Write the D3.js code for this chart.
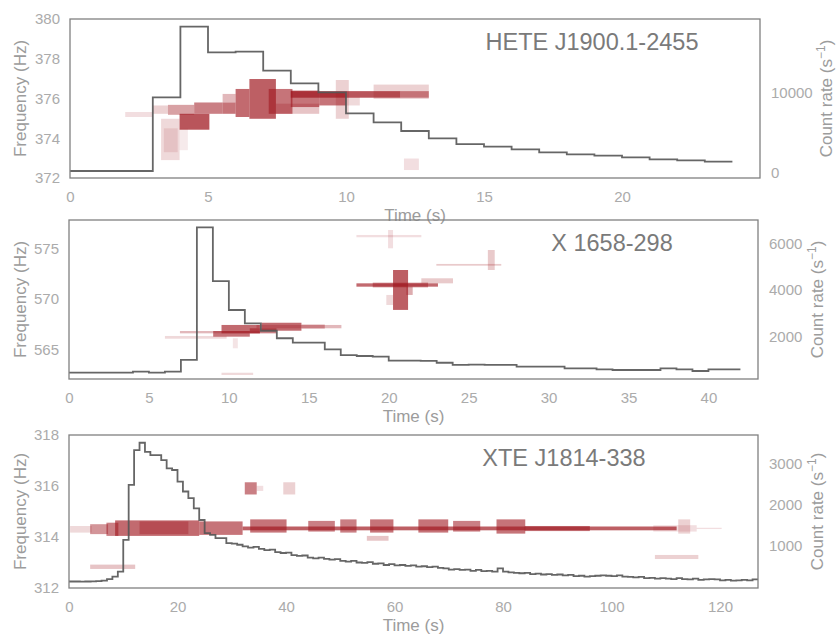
<!DOCTYPE html>
<html>
<head>
<meta charset="utf-8">
<script src="https://cdn.jsdelivr.net/npm/d3@7"></script>
<style>
body { margin: 0; background: #fff; }
svg { display: block; font-family: "Liberation Sans", Arial, sans-serif; }
</style>
</head>
<body>
<div id="chart"></div>
<script>
'use strict';

// ---- light curves, count rate per 1 s bin, starting at t = 0 ----
let hete_rate = [250, 250, 250, 9460, 18290, 15080, 15160, 12790, 11210, 10080, 7460, 6340,
    5250, 4330, 3620, 3290, 2960, 2580, 2330, 2170, 1960, 1710, 1580, 1410];

let x1658_rate = [455, 455, 455, 455, 500, 455, 500, 1000, 6680, 4380, 3140, 2570, 2250, 1930,
    1740, 1740, 1455, 1210, 1170, 1140, 970, 970, 960, 880, 785, 800, 785, 785, 710, 710, 710,
    640, 640, 600, 570, 570, 570, 640, 600, 527, 600, 600];

let xte_rate = [140, 140, 135, 140, 145, 150, 160, 200, 260, 380, 1150, 2480, 3320, 3500, 3280,
    3200, 3200, 3080, 2880, 2840, 2560, 2320, 2160, 1910, 1630, 1310, 1270, 1190, 1190, 1070,
    1060, 1030, 990, 960, 980, 930, 900, 910, 850, 830, 840, 780, 760, 770, 720, 700, 720, 690,
    670, 680, 640, 620, 640, 600, 590, 610, 570, 580, 540, 560, 530, 540, 520, 530, 500, 510,
    490, 500, 470, 460, 430, 440, 420, 430, 400, 420, 390, 400, 380, 460, 380, 360, 350, 340,
    350, 320, 330, 310, 320, 300, 310, 290, 300, 270, 280, 260, 270, 280, 290, 280, 270, 290,
    260, 250, 240, 250, 220, 230, 210, 220, 210, 200, 220, 200, 190, 210, 180, 190, 200, 190,
    170, 180, 160, 170, 180, 170, 190];

// ---- oscillation candidates: [t start, t end, f low, f high, relative power] ----
let hete_power = [
    [2.0, 3.0, 375.07, 375.32, 0.10],
    [3.0, 3.55, 375.23, 375.65, 0.15],
    [3.3, 3.97, 372.9, 374.98, 0.12],
    [3.4, 3.9, 373.3, 374.5, 0.08],
    [3.97, 4.27, 373.4, 374.5, 0.06],
    [3.55, 4.5, 375.18, 375.68, 0.35],
    [3.97, 5.05, 374.43, 375.23, 0.70],
    [4.5, 5.53, 375.23, 375.8, 0.50],
    [5.53, 6.0, 375.8, 376.23, 0.25],
    [5.53, 6.0, 375.23, 375.8, 0.55],
    [6.0, 6.5, 375.07, 376.48, 0.60],
    [6.5, 7.46, 374.98, 376.98, 0.65],
    [7.2, 8.06, 375.23, 376.48, 0.55],
    [7.46, 9.03, 375.23, 375.74, 0.20],
    [8.0, 9.03, 375.57, 376.4, 0.55],
    [9.03, 10.0, 375.65, 376.32, 0.55],
    [8.0, 11.97, 376.04, 376.37, 0.70],
    [11.97, 13.0, 376.04, 376.37, 0.45],
    [11.0, 13.0, 375.98, 376.7, 0.15],
    [9.63, 10.1, 374.98, 376.93, 0.15],
    [10.0, 10.5, 375.65, 376.07, 0.12],
    [12.1, 12.64, 372.4, 372.98, 0.10]
];

let x1658_power = [
    [6.0, 9.86, 566.05, 566.32, 0.12],
    [6.94, 11.94, 566.58, 566.81, 0.25],
    [9.02, 11.31, 566.25, 566.81, 0.55],
    [9.54, 11.94, 566.58, 567.41, 0.60],
    [11.31, 12.98, 566.58, 567.08, 0.50],
    [12.04, 14.54, 566.84, 567.63, 0.60],
    [11.73, 17.04, 567.08, 567.41, 0.25],
    [14.54, 16.0, 567.05, 567.45, 0.30],
    [10.25, 10.56, 565.1, 566.09, 0.08],
    [9.54, 11.52, 562.46, 562.68, 0.12],
    [17.98, 23.08, 571.2, 571.53, 0.60],
    [19.0, 22.46, 571.13, 571.6, 0.40],
    [20.27, 21.21, 568.9, 572.85, 0.65],
    [21.1, 21.5, 570.38, 571.2, 0.30],
    [19.85, 20.27, 569.39, 570.38, 0.12],
    [22.04, 24.02, 571.53, 572.03, 0.18],
    [22.98, 27.04, 573.28, 573.45, 0.18],
    [26.2, 26.63, 572.85, 574.83, 0.18],
    [17.98, 22.04, 576.09, 576.32, 0.10],
    [19.96, 20.27, 575.0, 576.81, 0.10]
];

let xte_power = [
    [0.2, 4.2, 314.16, 314.42, 0.12],
    [3.9, 7.2, 314.1, 314.49, 0.40],
    [6.9, 9.1, 314.03, 314.55, 0.50],
    [8.5, 24.0, 314.03, 314.64, 0.60],
    [13.0, 22.0, 314.1, 314.6, 0.30],
    [24.0, 32.0, 314.07, 314.6, 0.55],
    [32.0, 112.0, 314.25, 314.4, 0.65],
    [33.4, 40.1, 314.16, 314.68, 0.55],
    [44.1, 49.0, 314.2, 314.62, 0.50],
    [50.0, 53.0, 314.16, 314.68, 0.50],
    [55.5, 59.8, 314.16, 314.68, 0.55],
    [64.4, 69.9, 314.16, 314.68, 0.55],
    [70.8, 75.8, 314.2, 314.62, 0.50],
    [78.8, 84.1, 314.12, 314.68, 0.55],
    [84.0, 96.0, 314.22, 314.42, 0.50],
    [107.7, 115.7, 314.2, 314.45, 0.10],
    [112.3, 114.5, 314.12, 314.68, 0.15],
    [115.7, 120.3, 314.3, 314.35, 0.10],
    [108.0, 116.0, 313.12, 313.28, 0.15],
    [54.9, 58.9, 313.84, 314.03, 0.20],
    [32.4, 34.6, 315.66, 316.14, 0.50],
    [34.6, 35.8, 315.8, 316.0, 0.10],
    [39.5, 41.7, 315.66, 316.14, 0.15],
    [3.9, 12.2, 312.73, 312.9, 0.20]
];

// ---- tick values ----
let hete_tticks = [0, 5, 10, 15, 20];
let hete_fticks = [372, 374, 376, 378, 380];
let hete_rticks = [0, 10000];
let x1658_tticks = [0, 5, 10, 15, 20, 25, 30, 35, 40];
let x1658_fticks = [565, 570, 575];
let x1658_rticks = [2000, 4000, 6000];
let xte_tticks = [0, 20, 40, 60, 80, 100, 120];
let xte_fticks = [312, 314, 316, 318];
let xte_rticks = [1000, 2000, 3000];

let panels = [
    {id: 'hete', name: 'HETE J1900.1-2455', rate: hete_rate, power: hete_power,
     tmax: 25, fdom: [372, 380], rdom: [-625, 19250],
     tticks: hete_tticks, fticks: hete_fticks, rticks: hete_rticks,
     left: 70, right: 760, top: 19, bottom: 178, title_x: 592},
    {id: 'x1658', name: 'X 1658-298', rate: x1658_rate, power: x1658_power,
     tmax: 43.1, fdom: [562.06, 577.8], rdom: [184, 6994],
     tticks: x1658_tticks, fticks: x1658_fticks, rticks: x1658_rticks,
     left: 69, right: 758, top: 220, bottom: 379, title_x: 612},
    {id: 'xte', name: 'XTE J1814-338', rate: xte_rate, power: xte_power,
     tmax: 127, fdom: [311.98, 318], rdom: [-17, 3688],
     tticks: xte_tticks, fticks: xte_fticks, rticks: xte_rticks,
     left: 69, right: 758, top: 435, bottom: 588, title_x: 564}
];

let width = 837, height = 636;
let red = '#a01820';
let tick_col = '#ababab', label_col = '#9c9c9c', title_col = '#7a7a7a';

let svg = d3.select('#chart').append('svg')
    .attr('width', width)
    .attr('height', height);

// power -> opacity, a little lifted so the strong boxes read solid
let alpha = d3.scalePow().exponent(0.85).domain([0, 1]).range([0, 1]);

let style_axis = function(g) {
    g.select('.domain').remove();
    g.attr('font-family', null).attr('font-size', null);
    g.selectAll('text').attr('fill', tick_col).style('font-size', '15px');
}

let draw_panel = function(cfg) {
    var x = d3.scaleLinear().domain([0, cfg.tmax]).range([cfg.left, cfg.right]);
    var y = d3.scaleLinear().domain(cfg.fdom).range([cfg.bottom, cfg.top]);
    var y2 = d3.scaleLinear().domain(cfg.rdom).range([cfg.bottom, cfg.top]);

    var g = svg.append('g').attr('class', 'panel-' + cfg.id);

    svg.append('clipPath').attr('id', 'clip-' + cfg.id)
        .append('rect')
        .attr('x', cfg.left).attr('y', cfg.top)
        .attr('width', cfg.right - cfg.left).attr('height', cfg.bottom - cfg.top);

    // candidate boxes, drawn under the light curve
    g.append('g')
        .attr('clip-path', 'url(#clip-' + cfg.id + ')')
        .selectAll('rect')
        .data(cfg.power)
        .enter().append('rect')
        .attr('x', function(d) { return x(d[0]); })
        .attr('width', function(d) { return x(d[1]) - x(d[0]); })
        .attr('y', function(d) { return y(d[3]); })
        .attr('height', function(d) { return y(d[2]) - y(d[3]); })
        .attr('fill', red)
        .attr('fill-opacity', function(d) { return alpha(d[4]); });

    // light curve as a step line, 1 s bins
    var pts = cfg.rate.map(function(v, i) { return [i, v]; });
    pts.push([cfg.rate.length, cfg.rate[cfg.rate.length - 1]]);
    g.append('path')
        .datum(pts)
        .attr('clip-path', 'url(#clip-' + cfg.id + ')')
        .attr('d', d3.line()
            .x(function(d) { return x(d[0]); })
            .y(function(d) { return y2(d[1]); })
            .curve(d3.curveStepAfter))
        .attr('fill', 'none')
        .attr('stroke', '#555')
        .attr('stroke-opacity', 0.9)
        .attr('stroke-width', 1.8);

    // frame
    g.append('rect')
        .attr('x', cfg.left).attr('y', cfg.top)
        .attr('width', cfg.right - cfg.left).attr('height', cfg.bottom - cfg.top)
        .attr('fill', 'none')
        .attr('stroke', '#808080')
        .attr('stroke-width', 1.3);

    // axes, no tick marks
    g.append('g')
        .attr('transform', 'translate(0,' + cfg.bottom + ')')
        .call(d3.axisBottom(x).tickValues(cfg.tticks).tickSize(0).tickPadding(13).tickFormat(d3.format('d')))
        .call(style_axis);

    g.append('g')
        .attr('transform', 'translate(' + cfg.left + ',0)')
        .call(d3.axisLeft(y).tickValues(cfg.fticks).tickSize(0).tickPadding(10).tickFormat(d3.format('d')))
        .call(style_axis);

    var ra = g.append('g')
        .attr('transform', 'translate(' + cfg.right + ',0)')
        .call(d3.axisRight(y2).tickValues(cfg.rticks).tickSize(0).tickPadding(11).tickFormat(d3.format('d')))
        .call(style_axis);

    var mid = (cfg.top + cfg.bottom) / 2;

    g.append('text')
        .attr('transform', 'translate(26,' + mid + ') rotate(-90)')
        .attr('text-anchor', 'middle')
        .attr('fill', label_col)
        .style('font-size', '17px')
        .text('Frequency (Hz)');

    // right label sits just outside the widest count-rate tick label
    var rbox = ra.node().getBBox();
    var rl = g.append('text')
        .attr('transform', 'translate(' + Math.min(cfg.right + rbox.x + rbox.width + 21, 832) + ',' + mid + ') rotate(-90)')
        .attr('text-anchor', 'middle')
        .attr('fill', label_col)
        .style('font-size', '17px');
    rl.append('tspan').text('Count rate (s');
    rl.append('tspan').attr('baseline-shift', 'super').style('font-size', '12px').text('\u22121');
    rl.append('tspan').text(')');

    g.append('text')
        .attr('x', (cfg.left + cfg.right) / 2)
        .attr('y', cfg.bottom + 43)
        .attr('text-anchor', 'middle')
        .attr('fill', label_col)
        .style('font-size', '17px')
        .text('Time (s)');

    g.append('text')
        .attr('x', cfg.title_x)
        .attr('y', cfg.top + 31)
        .attr('text-anchor', 'middle')
        .attr('fill', title_col)
        .style('font-size', '23.5px')
        .text(cfg.name);
}

panels.forEach(function(p) {
    draw_panel(p);
});
</script>
</body>
</html>
